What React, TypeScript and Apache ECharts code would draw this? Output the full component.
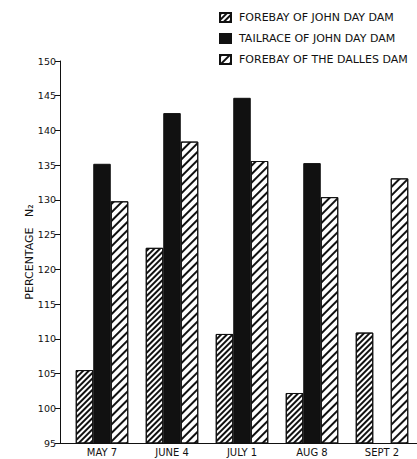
import React, { useEffect, useRef } from "react";
import * as echarts from "echarts";

const categories = ["MAY 7", "JUNE 4", "JULY 1", "AUG 8", "SEPT 2"];
const forebayJohnDay = [105.5, 123.1, 110.7, 102.2, 110.9];
const tailraceJohnDay: (number | null)[] = [135.2, 142.5, 144.7, 135.3, null];
const forebayDalles = [129.8, 138.4, 135.6, 130.4, 133.1];
const seriesNames = [
  "FOREBAY OF JOHN DAY DAM",
  "TAILRACE OF JOHN DAY DAM",
  "FOREBAY OF THE DALLES DAM",
];
const yAxisName = "PERCENTAGE   N₂";

const FONT = "DejaVu Sans";

export default function App() {
  const ref = useRef<HTMLDivElement>(null);
  useEffect(() => {
    if (!ref.current) return;
    const chart = echarts.init(ref.current, null, { renderer: "svg" });
    chart.setOption({
      animation: false,
      backgroundColor: "#fff",
      legend: {
        orient: "vertical",
        left: 214,
        top: 7,
        itemWidth: 11,
        itemHeight: 9,
        itemGap: 10,
        icon: "rect",
        textStyle: { fontFamily: FONT, fontSize: 11, color: "#111", padding: [0, 0, 0, 3] },
        data: seriesNames,
      },
      grid: { left: 67, right: -7.5, top: 61, bottom: 16, containLabel: false },
      xAxis: {
        type: "category",
        data: categories,
        axisLine: { lineStyle: { color: "#111", width: 1 } },
        axisTick: { show: false },
        axisLabel: { fontFamily: FONT, fontSize: 10, color: "#111", margin: 4 },
      },
      yAxis: {
        type: "value",
        min: 95,
        max: 150,
        interval: 5,
        offset: 7,
        name: yAxisName,
        nameLocation: "middle",
        nameRotate: 90,
        nameGap: 25,
        nameMoveOverlap: false,
        nameTextStyle: { fontFamily: FONT, fontSize: 11, color: "#111" },
        axisLine: { show: true, lineStyle: { color: "#111", width: 1 } },
        axisTick: { show: true, length: 5, lineStyle: { color: "#111" } },
        axisLabel: { fontFamily: FONT, fontSize: 9.5, color: "#111", margin: 4 },
        splitLine: { show: false },
      },
      graphic: [
        {
          type: "line",
          shape: { x1: 60, y1: 443.5, x2: 68, y2: 443.5 },
          style: { stroke: "#111", lineWidth: 1 },
        },
      ],
      series: [
        {
          name: seriesNames[0],
          type: "bar",
          data: forebayJohnDay,
          barWidth: 17.5,
          barGap: "0%",
          itemStyle: {
            color: "#fff",
            borderColor: "#111",
            borderWidth: 1,
            decal: {
              symbol: "rect",
              symbolSize: 1,
              dashArrayX: [1, 0],
              dashArrayY: [2, 1.8],
              rotation: -Math.PI / 4,
              color: "#111",
              backgroundColor: "#fff",
            },
          },
        },
        {
          name: seriesNames[1],
          type: "bar",
          data: tailraceJohnDay,
          barWidth: 17.5,
          barGap: "0%",
          itemStyle: { color: "#111", borderColor: "#111", borderWidth: 1 },
        },
        {
          name: seriesNames[2],
          type: "bar",
          data: forebayDalles,
          barWidth: 17.5,
          barGap: "0%",
          itemStyle: {
            color: "#fff",
            borderColor: "#111",
            borderWidth: 1,
            decal: {
              symbol: "rect",
              symbolSize: 1,
              dashArrayX: [1, 0],
              dashArrayY: [2, 3.4],
              rotation: -Math.PI / 4,
              color: "#111",
              backgroundColor: "#fff",
            },
          },
        },
      ],
    });
    return () => chart.dispose();
  }, []);
  return <div ref={ref} style={{ width: 417, height: 459, position: "absolute", left: 0, top: 0 }} />;
}
